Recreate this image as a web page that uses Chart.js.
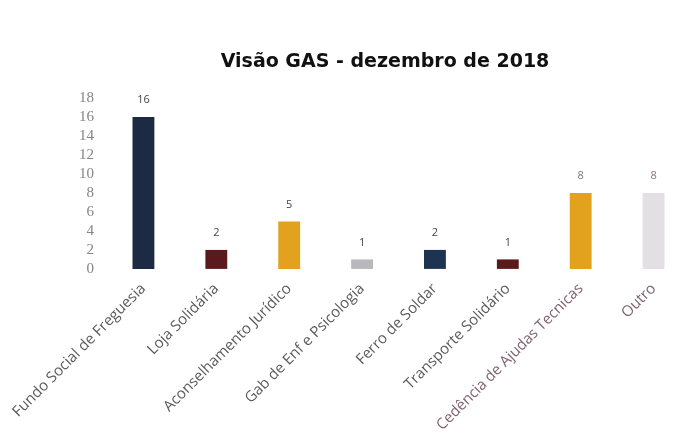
<!DOCTYPE html>
<html><head><meta charset="utf-8">
<script src="https://cdn.jsdelivr.net/npm/chart.js@4/dist/chart.umd.min.js"></script>
<style>html,body{margin:0;padding:0;background:#fff;}#wrap{width:695px;height:447px;position:relative;}</style>
</head><body><div id="wrap"><canvas id="c" width="695" height="447"></canvas></div>
<script>
const titleText = "Visão GAS - dezembro de 2018";
const categories = ["Fundo Social de Freguesia","Loja Solidária","Aconselhamento Jurídico","Gab de Enf e Psicologia","Ferro de Soldar","Transporte Solidário","Cedência de Ajudas Tecnicas","Outro"];
const values = [16, 2, 5, 1, 2, 1, 8, 8];
const barColors = ["#1c2a44","#5a1a1c","#e3a21e","#b9b8bb","#1d3352","#5a1a1c","#e3a21e","#e2e0e3"];
const labelColors = ["#5a5a5a","#5a5a5a","#5a5a5a","#5a5a5a","#5a5a5a","#5a5a5a","#7d5f6e","#7d5f6e"];
const valueColors = ["#444","#444","#444","#444","#444","#444","#8a7282","#8a7282"];
const yTicks = [0,2,4,6,8,10,12,14,16,18];

const valueLabels = {
  id:'valueLabels',
  afterDatasetsDraw(chart){
    const ctx = chart.ctx;
    const meta = chart.getDatasetMeta(0);
    ctx.save();
    ctx.font = '11px "Open Sans"';
    ctx.textAlign = 'center';
    ctx.textBaseline = 'middle';
    meta.data.forEach((bar,i)=>{
      ctx.fillStyle = valueColors[i];
      ctx.fillText(String(values[i]), bar.x, bar.y - 17);
    });
    // title
    ctx.font = 'bold 19px "DejaVu Sans"';
    ctx.fillStyle = '#111';
    ctx.fillText(titleText, 385, 62);
    ctx.restore();
  }
};

new Chart(document.getElementById('c'), {
  type:'bar',
  data:{labels:categories, datasets:[{data:values, backgroundColor:barColors, barPercentage:0.3, categoryPercentage:1}]},
  options:{
    responsive:false, animation:false,
    layout:{padding:{top:98,left:74,right:5,bottom:10}},
    plugins:{
      legend:{display:false},
      tooltip:{enabled:false},
      title:{display:false}
    },
    scales:{
      x:{grid:{display:false}, border:{display:false},
         ticks:{autoSkip:false, minRotation:45, maxRotation:45, color:(c)=>labelColors[c.index], font:{family:'"Open Sans"', size:15}}},
      y:{min:0, max:18, grid:{display:false}, border:{display:false},
         afterBuildTicks:(s)=>{s.ticks = yTicks.map(v=>({value:v}));},
         ticks:{autoSkip:false, color:'#858585', font:{family:'"Liberation Serif"', size:15}, padding:5}}
    }
  },
  plugins:[valueLabels]
});
</script></body></html>
